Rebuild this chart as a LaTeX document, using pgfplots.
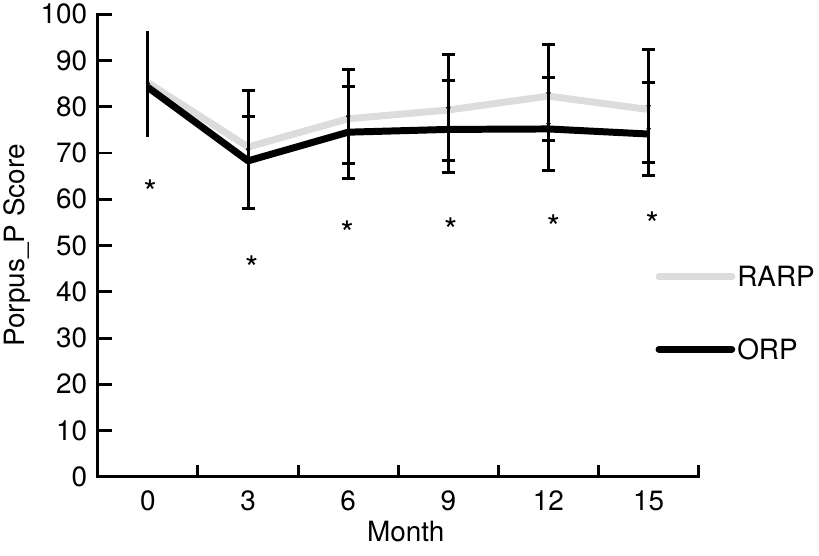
\documentclass[border=0pt]{standalone}
\usepackage{fontspec}
\setmainfont{TeX Gyre Heros}
\usepackage{pgfplots}
\pgfplotsset{compat=1.18}
\definecolor{rarpgray}{RGB}{220,220,220}
\newcommand{\chartfont}{\fontsize{28bp}{33bp}\selectfont}
\newcommand{\starfont}{\fontsize{34bp}{40bp}\selectfont}
\begin{document}
\begin{tikzpicture}
\begin{axis}[
  scale only axis,
  width=602.8bp, height=464bp,
  xmin=-0.5, xmax=5.5, ymin=0, ymax=100,
  clip=false,
  axis x line=bottom, axis y line=left,
  axis line style={-, line width=3bp, black, line cap=rect},
  tick align=inside,
  major tick length=14bp,
  minor tick length=11.5bp,
  tick style={line width=3bp, black},
  xtick={0,1,2,3,4,5},
  xticklabels={0,3,6,9,12,15},
  minor xtick={0.5,1.5,2.5,3.5,4.5,5.5},
  major x tick style={draw=none},
  ytick={0,10,...,100},
  /pgf/number format/assume math mode=true,
  tick label style={font=\chartfont},
  xticklabel style={anchor=base, yshift=-34bp},
  yticklabel style={anchor=east, inner sep=0pt, xshift=-10.5bp},
  xlabel={Month},
  ylabel={Porpus\_P Score},
  every axis x label/.style={at={(axis description cs:0.5,0)}, anchor=base, yshift=-64.7bp, xshift=7.5bp, font=\chartfont},
  every axis y label/.style={at={(axis description cs:-0.1226,0.5)}, rotate=90, anchor=base, font=\chartfont},
  legend style={draw=none, fill=none, at={(axis cs:5.069,46)}, anchor=north west,
    inner sep=0pt, outer sep=0pt, row sep=46.5bp, font=\chartfont},
  legend cell align=left,
  legend image code/.code={\draw[#1, line cap=round] (0bp,0bp) -- (73bp,0bp);},
]
\addplot[rarpgray, line width=7bp, line join=round, mark=none] coordinates {
  (0,85.2) (1,71.3) (2,77.4) (3,79.3) (4,82.3) (5,79.4)};
\addlegendentry{RARP}
\addplot[black, line width=7bp, line join=round, mark=none] coordinates {
  (0,84.2) (1,68.3) (2,74.5) (3,75.1) (4,75.2) (5,74.1)};
\addlegendentry{ORP}
% error bars, month 0 (no caps)
\addplot[forget plot, only marks, mark=none,
  error bars/.cd, y dir=both, y explicit, error mark=none,
  error bar style={line width=3bp, black}]
  table[x=x, y=y, y error plus=ep, y error minus=em] {
x y ep em
0 85 11.4 11.5
};
% error bars, outer set
\addplot[forget plot, only marks, mark=none,
  error bars/.cd, y dir=both, y explicit, error mark=none,
  error bar style={line width=3bp, black}]
  table[x=x, y=y, y error plus=ep, y error minus=em] {
x y ep em
1 70.8 12.8 12.8
2 77.95 10.15 10.15
3 79.8 11.4 11.4
4 83.0 10.4 10.4
5 80.2 12.2 12.2
};
% error bars, inner set
\addplot[forget plot, only marks, mark=none,
  error bars/.cd, y dir=both, y explicit, error mark=none,
  error bar style={line width=3bp, black}]
  table[x=x, y=y, y error plus=ep, y error minus=em] {
x y ep em
1 67.95 9.95 9.95
2 74.4 10 10
3 75.65 9.95 9.95
4 76.35 10.05 10.05
5 75.25 10.05 10.05
};
% error bar caps (ends of the bars above)
\addplot[forget plot, only marks, mark=-, mark size=6.5bp,
  mark options={line width=3bp, black}] coordinates {
  (1,83.6) (1,58.0) (2,88.1) (2,67.8) (3,91.2) (3,68.4) (4,93.4) (4,72.6) (5,92.4) (5,68.0)
  (1,77.9) (2,84.4) (2,64.4) (3,85.6) (3,65.7) (4,86.4) (4,66.3) (5,85.3) (5,65.2)};
% significance asterisks
\addplot[forget plot, only marks, mark=none,
  nodes near coords={*},
  every node near coord/.style={anchor=base, inner sep=0pt, font=\starfont}]
  coordinates {(0.022,58.8) (1.037,42.4) (1.99,50.1) (3.024,50.7) (4.05,51.3) (5.035,52.0)};
\end{axis}
\path[use as bounding box] (-95.5bp,-78.7bp) rectangle (723.5bp,478.3bp);
\end{tikzpicture}
\end{document}
